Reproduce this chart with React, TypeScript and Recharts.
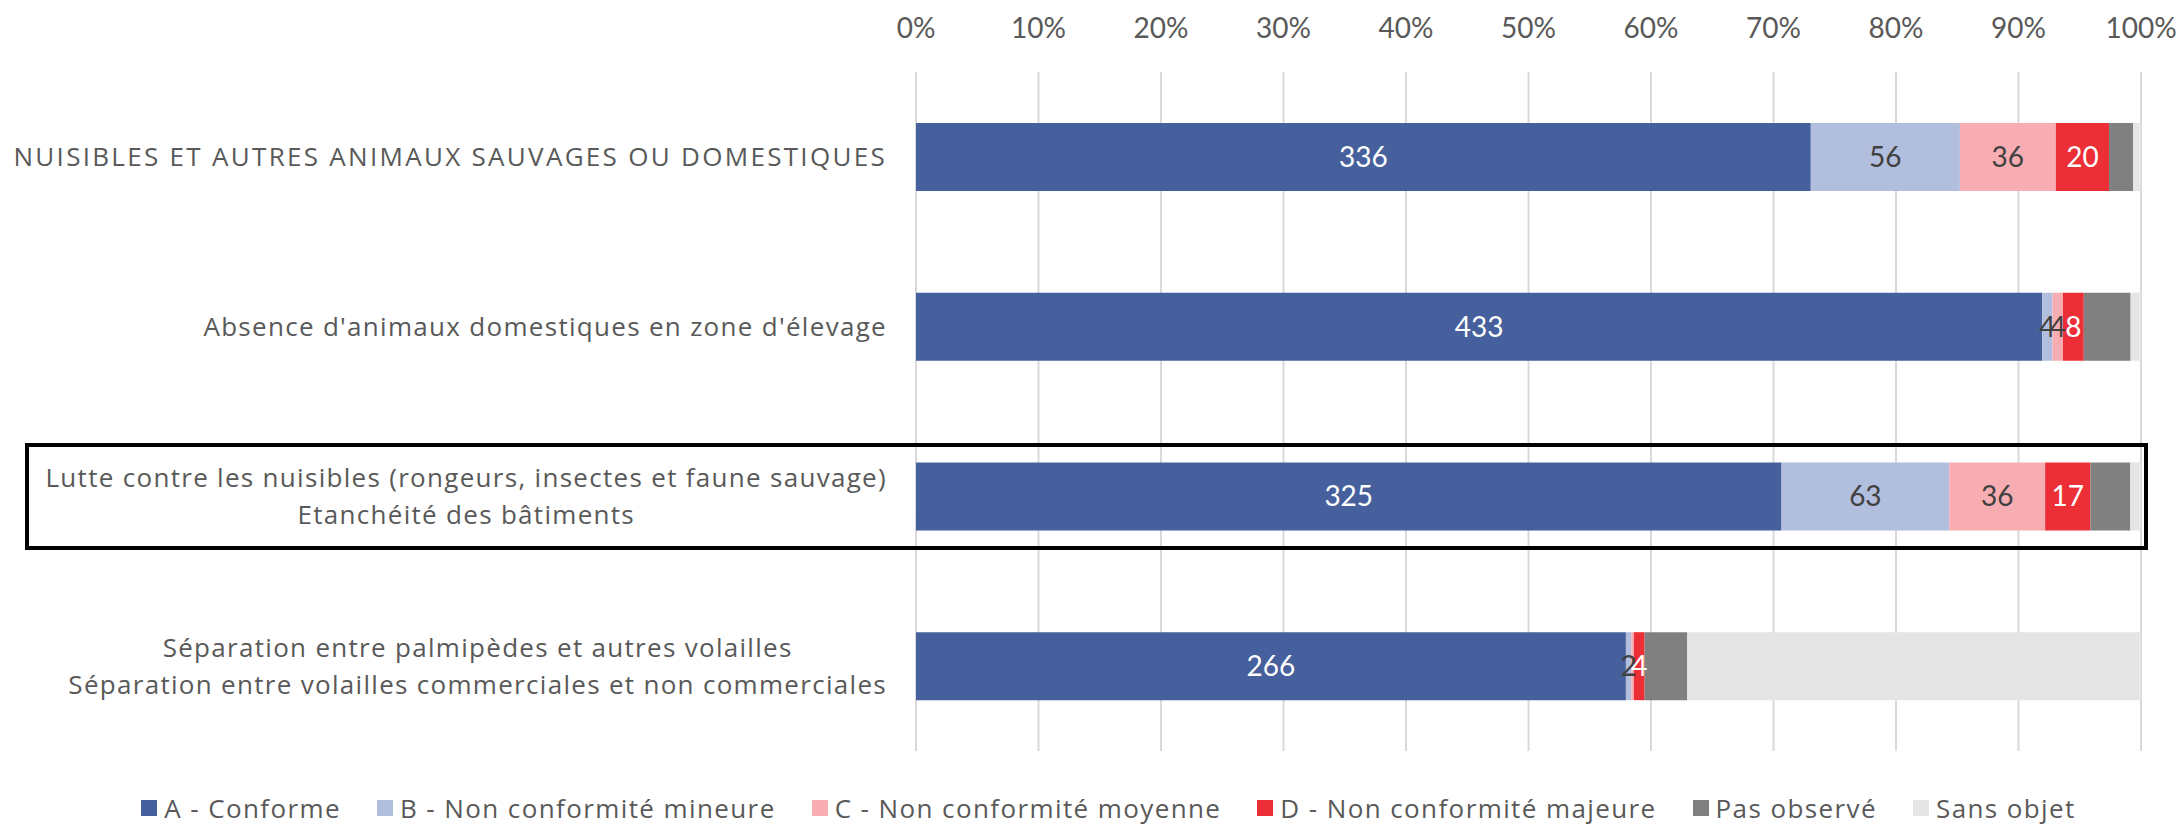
import React from "react";
import {
  BarChart,
  Bar,
  XAxis,
  YAxis,
  CartesianGrid,
  Legend,
  LabelList,
} from "recharts";

const FONT = "Lato, 'Open Sans', sans-serif";
const CAT_FONT = "'Open Sans', sans-serif";
const TEXT = "#595959";

// category labels, one entry per line
const categories = [
  ["NUISIBLES ET AUTRES ANIMAUX SAUVAGES OU DOMESTIQUES"],
  ["Absence d'animaux domestiques en zone d'élevage"],
  [
    "Lutte contre les nuisibles (rongeurs, insectes et faune sauvage)",
    "Etanchéité des bâtiments",
  ],
  [
    "Séparation entre palmipèdes et autres volailles",
    "Séparation entre volailles commerciales et non commerciales",
  ],
];

const conforme = [336, 433, 325, 266];
const mineure = [56, 4, 63, 2];
const moyenne = [36, 4, 36, 1];
const majeure = [20, 8, 17, 4];
const pasObserve = [9, 18, 15, 16];
const sansObjet = [3, 4, 4, 170];

const xTicks = [0, 0.1, 0.2, 0.3, 0.4, 0.5, 0.6, 0.7, 0.8, 0.9, 1];

const series = [
  { key: "A", name: "A - Conforme", color: "#465F9D", label: "#FFFFFF", values: conforme },
  { key: "B", name: "B - Non conformité mineure", color: "#B1BEDD", label: "#404040", values: mineure },
  { key: "C", name: "C - Non conformité moyenne", color: "#F8ADB2", label: "#404040", values: moyenne },
  { key: "D", name: "D - Non conformité majeure", color: "#EC2F37", label: "#FFFFFF", values: majeure },
  { key: "P", name: "Pas observé", color: "#808080", label: null, values: pasObserve },
  { key: "S", name: "Sans objet", color: "#E5E5E5", label: null, values: sansObjet },
];

const data = categories.map((lines, i) => {
  const row: Record<string, any> = { cat: lines.join("\n") };
  series.forEach((s) => {
    row[s.key] = s.values[i];
  });
  return row;
});

const CAT_SIZE = 26;
const CAT_SPACING = 1.3;
const CAPS_SPACING = 2.3;

const spacingFor = (l: string) => (l === l.toUpperCase() ? CAPS_SPACING : CAT_SPACING);

let ctx: CanvasRenderingContext2D | null = null;
function measure(text: string) {
  if (!ctx) {
    ctx = document.createElement("canvas").getContext("2d");
  }
  if (!ctx) return text.length * CAT_SIZE * 0.55;
  ctx.font = `${CAT_SIZE}px 'Open Sans'`;
  (ctx as any).letterSpacing = `${spacingFor(text)}px`;
  return ctx.measureText(text).width;
}

const catStyle = (l: string) => ({
  fontFamily: CAT_FONT,
  fontSize: CAT_SIZE,
  letterSpacing: spacingFor(l),
});

function CategoryTick(props: any) {
  const { x, y, payload } = props;
  const lines: string[] = String(payload.value).split("\n");
  const end = x - 29;
  const lineH = 37;
  if (lines.length === 1) {
    return (
      <text x={end} y={y} dy="0.35em" textAnchor="end" fill={TEXT} style={catStyle(lines[0])}>
        {lines[0]}
      </text>
    );
  }
  const maxW = Math.max(...lines.map(measure));
  const cx = end - maxW / 2;
  return (
    <g>
      {lines.map((l, i) => (
        <text key={i} x={cx} y={y + (i - (lines.length - 1) / 2) * lineH}
          dy="0.35em" textAnchor="middle" fill={TEXT} style={catStyle(l)}>
          {l}
        </text>
      ))}
    </g>
  );
}

function LegendContent() {
  return (
    <div
      style={{
        height: 73,
        paddingTop: 40,
        paddingLeft: 76,
        boxSizing: "border-box",
        display: "flex",
        alignItems: "center",
        justifyContent: "center",
        gap: 36,
        fontFamily: CAT_FONT,
        fontSize: CAT_SIZE,
        letterSpacing: 1.4,
        color: TEXT,
      }}
    >
      {series.map((s) => (
        <div key={s.key} style={{ display: "flex", alignItems: "center", gap: 7 }}>
          <span style={{ width: 16, height: 16, background: s.color, display: "inline-block" }} />
          <span>{s.name}</span>
        </div>
      ))}
    </div>
  );
}

export default function App() {
  return (
    <div style={{ position: "absolute", left: 0, top: 0, width: 2180, height: 824, background: "#fff" }}>
      <BarChart
        width={2180}
        height={824}
        data={data}
        layout="vertical"
        stackOffset="expand"
        barCategoryGap="30%"
        margin={{ top: 0, right: 39, bottom: 0, left: 0 }}
      >
        <CartesianGrid horizontal={false} stroke="#D9D9D9" strokeWidth={2} />
        <XAxis
          type="number"
          orientation="top"
          domain={[0, 1]}
          ticks={xTicks}
          height={72}
          axisLine={false}
          tickLine={false}
          tickSize={0}
          tickMargin={34}
          interval={0}
          tickFormatter={(v: number) => `${Math.round(v * 100)}%`}
          tick={{ fill: TEXT, fontSize: 28, fontFamily: FONT }}
        />
        <YAxis
          type="category"
          dataKey="cat"
          width={916}
          axisLine={false}
          tickLine={false}
          tickSize={0}
          tickMargin={0}
          interval={0}
          tick={<CategoryTick />}
        />
        <Legend verticalAlign="bottom" content={<LegendContent />} />
        {series.map((s) => (
          <Bar key={s.key} dataKey={s.key} name={s.name} stackId="s" fill={s.color} isAnimationActive={false}>
            {s.label && (
              <LabelList
                dataKey={s.key}
                position="center"
                fill={s.label}
                formatter={(v: any) => (Number(v) >= 2 ? v : "")}
                style={{ fontFamily: FONT, fontSize: 28 }}
              />
            )}
          </Bar>
        ))}
      </BarChart>
      <div
        style={{
          position: "absolute",
          left: 25,
          top: 443,
          width: 2123,
          height: 107,
          border: "4px solid #000",
          boxSizing: "border-box",
          pointerEvents: "none",
        }}
      />
    </div>
  );
}
